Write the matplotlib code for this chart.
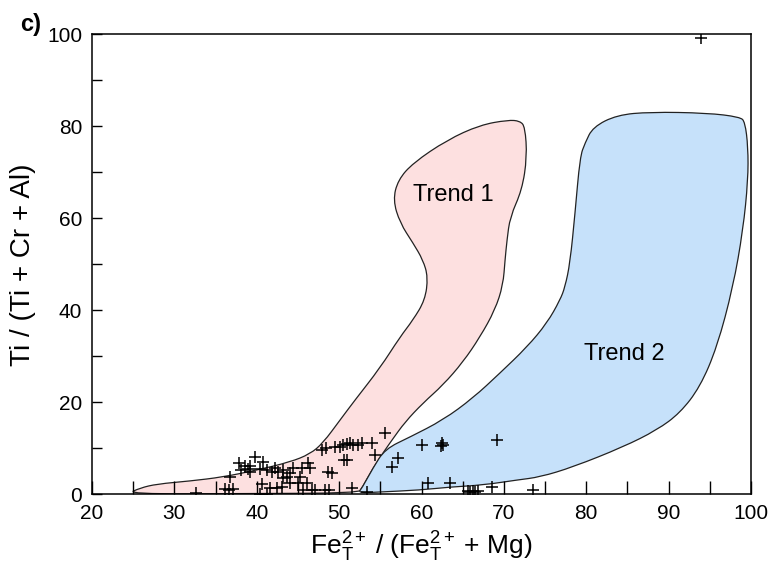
import matplotlib
matplotlib.use('Agg')
import matplotlib.pyplot as plt
from matplotlib.path import Path
from matplotlib.patches import PathPatch
import numpy as np

plt.rcParams['font.family'] = ['Liberation Sans', 'DejaVu Sans']
plt.rcParams['mathtext.fontset'] = 'custom'
plt.rcParams['mathtext.rm'] = 'Liberation Sans'

# Trend 1 outline (Fe ratio, Ti ratio)
trend1_x = [24.25, 25.83, 27.89, 31.90, 35.90, 40.03, 44.04, 46.47, 48.04, 50.11,
            51.93, 54.96, 57.39, 58.97, 60.43, 60.79, 60.18, 58.97, 57.39, 56.54,
            57.15, 58.97, 63.10, 67.10, 70.50, 71.96, 72.57, 72.81, 72.20, 70.75,
            70.38, 70.14, 69.90, 68.92, 67.10, 65.04, 62.61, 60.18, 58.00, 56.42,
            55.57, 54.11, 52.78, 52.29, 39.18]
trend1_y = [0.0, 1.31, 2.18, 2.83, 3.70, 5.22, 6.96, 8.71, 11.10, 16.10,
            20.46, 27.42, 34.17, 37.87, 42.22, 47.22, 50.93, 54.62, 58.98, 63.98,
            68.34, 72.04, 77.04, 80.30, 81.39, 81.18, 79.87, 73.34, 66.16, 60.28,
            55.28, 50.93, 45.48, 40.04, 34.17, 28.73, 23.72, 19.80, 15.67, 11.75,
            9.58, 5.66, 1.31, 0.22, 0.1]

# Trend 2 outline
trend2_x = [52.29, 52.78, 54.11, 55.57, 58.60, 62.61, 66.25, 69.53, 72.81, 75.24,
            76.82, 77.42, 78.03, 78.64, 79.24, 79.85, 80.82, 83.73, 87.74, 94.66,
            98.67, 99.27, 99.64, 99.64, 99.03, 97.82, 95.88, 93.81, 91.38, 88.59,
            84.46, 78.39, 74.39, 71.60, 67.47, 63.46, 59.82, 54.96]
trend2_y = [0.22, 1.31, 5.66, 9.79, 12.40, 16.10, 20.89, 26.33, 31.99, 37.21,
            42.22, 45.05, 50.27, 61.15, 73.34, 76.39, 79.87, 82.48, 83.13, 82.92,
            82.05, 80.96, 75.52, 68.34, 57.45, 45.05, 31.99, 23.29, 17.63, 13.93,
            10.23, 5.88, 3.70, 3.05, 1.96, 1.52, 0.87, 0.44]

# analyses
fe_ratio = [32.6, 36.2, 36.6, 37.1, 36.8, 37.8, 38.1, 38.6, 38.9, 39.2, 39.2, 39.8,
            40.4, 40.6, 40.4, 41.2, 40.8, 41.2, 41.6, 41.85, 42.2, 42.4, 42.6, 43.1,
            43.2, 43.2, 43.7, 44.0, 44.0, 44.4, 45.0, 45.3, 45.5, 45.6, 46.2, 46.5,
            46.1, 46.7, 47.1, 48.6, 49.1, 48.3, 48.8, 47.9, 48.4, 49.5, 50.1, 50.5,
            50.9, 51.3, 51.7, 52.3, 52.8, 51.0, 50.6, 51.6, 53.4, 54.0, 55.6, 54.35,
            57.15, 56.4, 60.1, 62.5, 62.6, 62.4, 60.8, 63.4, 65.6, 65.9, 66.2, 66.5,
            66.9, 68.6, 69.2, 73.5, 93.9]
ti_ratio = [0.2, 1.2, 0.9, 1.1, 3.8, 6.8, 5.3, 6.0, 5.4, 6.0, 4.9, 8.1,
            5.5, 2.2, 0.1, 0.1, 7.0, 5.2, 1.3, 4.8, 5.7, 1.3, 4.8, 1.6,
            5.2, 3.5, 3.8, 2.4, 4.6, 5.7, 2.4, 3.7, 5.7, 0.9, 6.7, 5.7,
            2.4, 0.9, 0.9, 4.9, 4.5, 0.9, 0.8, 9.6, 10.0, 10.2, 10.2, 10.7,
            10.9, 11.1, 10.7, 10.7, 11.1, 7.4, 7.4, 1.3, 0.4, 11.1, 13.2, 8.5,
            7.8, 5.9, 10.7, 11.1, 10.7, 10.5, 2.4, 2.4, 0.6, 0.5, 0.6, 0.5,
            0.6, 1.5, 11.75, 0.9, 99.3]


def smooth_outline(xs, ys):
    # closed quadratic curve: outline points act as control points
    p = np.column_stack([xs, ys])
    mids = (p + np.roll(p, -1, axis=0)) / 2
    verts = [mids[-1]]
    codes = [Path.MOVETO]
    for i in range(len(p)):
        verts += [p[i], mids[i]]
        codes += [Path.CURVE3, Path.CURVE3]
    verts.append(mids[-1])
    codes.append(Path.CLOSEPOLY)
    return Path(verts, codes)


fig = plt.figure(figsize=(7.81, 5.67), dpi=100)
ax = fig.add_axes([0.1178, 0.1287, 0.8438, 0.8105])

ax.add_patch(PathPatch(smooth_outline(trend1_x, trend1_y), facecolor='#fde0e0',
                       edgecolor='#222222', linewidth=0.9, zorder=1))
ax.add_patch(PathPatch(smooth_outline(trend2_x, trend2_y), facecolor='#c6e1fa',
                       edgecolor='#222222', linewidth=0.9, zorder=1))
ax.plot(fe_ratio, ti_ratio, linestyle='none', marker='+', markersize=9,
        markeredgewidth=1.1, color='black', zorder=3)

ax.text(63.9, 65.1, 'Trend 1', ha='center', va='center', fontsize=17)
ax.text(84.6, 30.5, 'Trend 2', ha='center', va='center', fontsize=17)

ax.set_xlim(20, 100)
ax.set_ylim(0, 100)
ax.set_xticks(np.arange(20, 101, 10))
ax.set_xticks(np.arange(25, 100, 5), minor=True)
ax.set_yticks(np.arange(0, 101, 20))
ax.set_yticks(np.arange(10, 100, 20), minor=True)
ax.tick_params(axis='x', which='both', direction='in', length=9.5, width=1, labelsize=15, pad=7)
ax.tick_params(axis='y', which='both', direction='in', length=7.5, width=1, labelsize=15, pad=7)
for s in ax.spines.values():
    s.set_linewidth(1.1)

ax.set_xlabel('$\\mathregular{Fe_T^{2+}}$\u2009/ ($\\mathregular{Fe_T^{2+}}$\u2009+ Mg)',
              fontsize=19, labelpad=5)
ax.set_ylabel('Ti / (Ti + Cr + Al)', fontsize=20, labelpad=8)
fig.text(0.026, 0.956, 'c)', fontsize=17, fontweight='bold', ha='left', va='center')

plt.savefig('out.png', dpi=100)
